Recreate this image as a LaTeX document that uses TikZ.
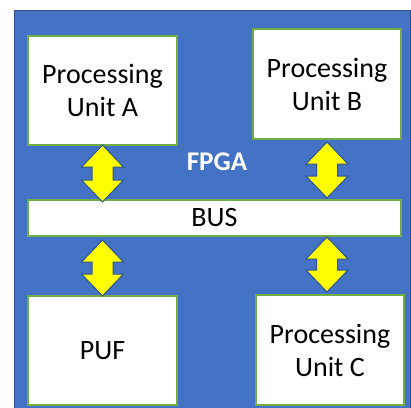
\documentclass[tikz,border=0pt]{standalone}
\usepackage{fontspec}
\setmainfont{Carlito}
\usetikzlibrary{calc}
\definecolor{fpgablue}{HTML}{4472C4}
\definecolor{darkblue}{HTML}{2F528F}
\definecolor{boxgreen}{HTML}{70AD47}
\definecolor{arrowyellow}{HTML}{FFFF00}
\newcommand\yarrow[2]{%
  \draw[dblarrow] (#1) -- ($(#1)+(21,22)$) -- ($(#1)+(10.5,22)$) -- ($(#2)+(10.5,-22)$)
    -- ($(#2)+(21,-22)$) -- (#2) -- ($(#2)+(-21,-22)$) -- ($(#2)+(-10.5,-22)$)
    -- ($(#1)+(-10.5,22)$) -- ($(#1)+(-21,22)$) -- cycle;}
\begin{document}
\begin{tikzpicture}[x=1pt,y=-1pt,
  unitbox/.style={draw=boxgreen,line width=1.5pt,fill=white,inner sep=0pt,
    align=center,font=\fontsize{28}{33}\selectfont},
  dblarrow/.style={draw=darkblue,line width=1pt,fill=arrowyellow,line join=miter}]
\useasboundingbox (0,0) rectangle (411,407);
\node[draw=darkblue,line width=1pt,fill=fpgablue,minimum width=396pt,minimum height=398pt,inner sep=0pt,anchor=north west] (fpga) at (14,10) {};
\node[unitbox,minimum width=149pt,minimum height=109pt] (A) at (102.5,90.5) {Processing\\Unit A};
\node[unitbox,minimum width=148pt,minimum height=110pt] (B) at (327,84) {Processing\\Unit B};
\node[unitbox,minimum width=373pt,minimum height=36pt] (bus) at (214.5,218) {BUS};
\node[unitbox,minimum width=149pt,minimum height=109pt] (puf) at (102.5,350.5) {PUF};
\node[unitbox,minimum width=148pt,minimum height=110pt] (C) at (330,350) {Processing\\Unit C};
\node[text=white,font=\fontsize{27}{32}\selectfont\bfseries] (label) at (217,162) {FPGA};
\coordinate (a1t) at (102.5,145);
\coordinate (a1b) at (102.5,202);
\coordinate (a2t) at (327,142);
\coordinate (a2b) at (327,198);
\coordinate (a3t) at (102.5,240);
\coordinate (a3b) at (102.5,296);
\coordinate (a4t) at (327,237);
\coordinate (a4b) at (327,292);
\yarrow{a1t}{a1b}
\yarrow{a2t}{a2b}
\yarrow{a3t}{a3b}
\yarrow{a4t}{a4b}
\end{tikzpicture}
\end{document}
